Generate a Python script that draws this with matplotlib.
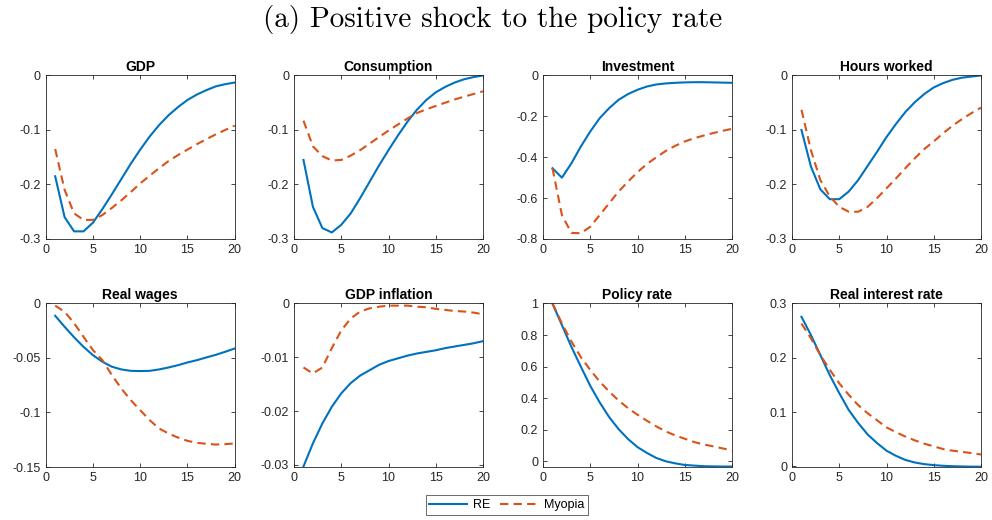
import numpy as np
import matplotlib
matplotlib.use('Agg')
import matplotlib.pyplot as plt

BLUE = '#0072BD'; ORANGE = '#D95319'; AXC = '#262626'

plt.rcParams.update({
    'font.family': ['Liberation Sans', 'DejaVu Sans'],
    'axes.unicode_minus': False,
    'xtick.direction': 'in', 'ytick.direction': 'in',
    'xtick.top': True, 'ytick.right': True,
    'xtick.major.size': 3, 'ytick.major.size': 3,
    'xtick.major.width': 0.6, 'ytick.major.width': 0.6,
    'xtick.color': AXC, 'ytick.color': AXC,
    'axes.edgecolor': AXC, 'axes.linewidth': 0.6,
    'xtick.labelsize': 9, 'ytick.labelsize': 9,
})

periods = np.arange(1, 21)

titles = ['GDP', 'Consumption', 'Investment', 'Hours worked',
          'Real wages', 'GDP inflation', 'Policy rate', 'Real interest rate']

gdp_re = [-0.185, -0.26, -0.286, -0.286, -0.27, -0.245, -0.218, -0.19, -0.162, -0.136,
          -0.112, -0.091, -0.073, -0.058, -0.045, -0.035, -0.027, -0.020, -0.016, -0.013]
gdp_my = [-0.135, -0.21, -0.253, -0.265, -0.265, -0.256, -0.243, -0.229, -0.214, -0.198,
          -0.184, -0.17, -0.157, -0.146, -0.136, -0.126, -0.117, -0.108, -0.1, -0.092]

cons_re = [-0.155, -0.241, -0.28, -0.288, -0.274, -0.253, -0.225, -0.195, -0.165, -0.137,
           -0.11, -0.085, -0.063, -0.045, -0.031, -0.021, -0.013, -0.007, -0.003, 0.0]
cons_my = [-0.083, -0.13, -0.148, -0.156, -0.155, -0.147, -0.137, -0.125, -0.113, -0.101,
           -0.09, -0.079, -0.069, -0.062, -0.056, -0.05, -0.044, -0.039, -0.034, -0.029]

inv_re = [-0.454, -0.5, -0.43, -0.348, -0.274, -0.209, -0.16, -0.119, -0.091, -0.07,
          -0.054, -0.044, -0.039, -0.036, -0.034, -0.033, -0.033, -0.034, -0.035, -0.036]
inv_my = [-0.454, -0.683, -0.77, -0.772, -0.74, -0.683, -0.625, -0.568, -0.519, -0.473,
          -0.433, -0.4, -0.369, -0.344, -0.323, -0.307, -0.294, -0.282, -0.271, -0.261]

hours_re = [-0.1, -0.167, -0.209, -0.227, -0.227, -0.213, -0.192, -0.166, -0.14, -0.113,
            -0.089, -0.067, -0.049, -0.034, -0.022, -0.014, -0.008, -0.004, -0.002, 0.0]
hours_my = [-0.063, -0.137, -0.192, -0.222, -0.241, -0.25, -0.25, -0.241, -0.225, -0.207,
            -0.189, -0.17, -0.152, -0.135, -0.121, -0.106, -0.092, -0.08, -0.069, -0.059]

wage_re = [-0.0113, -0.0214, -0.031, -0.0398, -0.0474, -0.0535, -0.058, -0.0605, -0.0618, -0.062,
           -0.0618, -0.0605, -0.0587, -0.0566, -0.0541, -0.052, -0.0495, -0.0471, -0.0443, -0.0413]
wage_my = [-0.002, -0.0076, -0.018, -0.0306, -0.0428, -0.052, -0.0657, -0.078, -0.0887, -0.0979,
           -0.107, -0.1147, -0.1193, -0.123, -0.126, -0.1278, -0.1287, -0.1294, -0.129, -0.1284]

infl_re = [-0.0303, -0.026, -0.0223, -0.0192, -0.0167, -0.0148, -0.0134, -0.0124, -0.0114, -0.0107,
           -0.0102, -0.0097, -0.0093, -0.009, -0.0087, -0.0083, -0.008, -0.0077, -0.0074, -0.007]
infl_my = [-0.0119, -0.013, -0.0119, -0.0083, -0.005, -0.0028, -0.0015, -0.0009, -0.0006, -0.0004,
           -0.0004, -0.0004, -0.0006, -0.0007, -0.001, -0.0012, -0.0014, -0.0015, -0.0017, -0.002]

rate_re = [1.0, 0.863, 0.726, 0.6, 0.478, 0.373, 0.28, 0.204, 0.141, 0.09,
           0.053, 0.021, 0.0, -0.013, -0.023, -0.027, -0.031, -0.032, -0.033, -0.033]
rate_my = [1.0, 0.874, 0.76, 0.66, 0.579, 0.505, 0.442, 0.385, 0.337, 0.295,
           0.257, 0.221, 0.189, 0.164, 0.143, 0.122, 0.107, 0.095, 0.082, 0.069]

rir_re = [0.2755, 0.242, 0.205, 0.168, 0.135, 0.104, 0.080, 0.059, 0.043, 0.029,
          0.0196, 0.012, 0.0073, 0.0043, 0.0025, 0.0012, 0.0005, 0.0, -0.0003, -0.0005]
rir_my = [0.263, 0.236, 0.205, 0.178, 0.153, 0.132, 0.113, 0.098, 0.085, 0.072,
          0.063, 0.055, 0.048, 0.042, 0.037, 0.032, 0.029, 0.027, 0.0245, 0.022]

series = [(gdp_re, gdp_my), (cons_re, cons_my), (inv_re, inv_my), (hours_re, hours_my),
          (wage_re, wage_my), (infl_re, infl_my), (rate_re, rate_my), (rir_re, rir_my)]

ylims = [(-0.3, 0), (-0.3, 0), (-0.8, 0), (-0.3, 0),
         (-0.15, 0), (-0.0304, 0), (-0.036, 1), (-0.001, 0.3)]
yticks = [[-0.3, -0.2, -0.1, 0], [-0.3, -0.2, -0.1, 0], [-0.8, -0.6, -0.4, -0.2, 0],
          [-0.3, -0.2, -0.1, 0], [-0.15, -0.1, -0.05, 0], [-0.03, -0.02, -0.01, 0],
          [0, 0.2, 0.4, 0.6, 0.8, 1], [0, 0.1, 0.2, 0.3]]

fig = plt.figure(figsize=(9.92, 5.2), dpi=100)
fig.patch.set_facecolor('white')

lefts = [0.0461, 0.2964, 0.5474, 0.7984]
bottoms = [0.5404, 0.1019]
w, h = 0.1905, 0.3145

for i, (title, (re, my)) in enumerate(zip(titles, series)):
    ax = fig.add_axes([lefts[i % 4], bottoms[i // 4], w, h])
    l1, = ax.plot(periods, re, color=BLUE, lw=1.5, label='RE')
    l2, = ax.plot(periods, my, color=ORANGE, lw=1.5, dashes=(4, 2.5), label='Myopia')
    ax.set_xlim(0, 20)
    ax.set_xticks([0, 5, 10, 15, 20])
    ax.set_ylim(*ylims[i])
    ax.set_yticks(yticks[i])
    ax.set_yticklabels([f'{v:g}' for v in yticks[i]])
    ax.set_title(title, fontsize=10, fontweight='bold', pad=3)

fig.text(0.497, 0.962, '(a) Positive shock to the policy rate', family='cmr10',
         fontsize=21, ha='center', va='center')

fig.legend([l1, l2], ['RE', 'Myopia'], loc='center', bbox_to_anchor=(0.511, 0.029),
           ncol=2, fontsize=9, frameon=True, fancybox=False, edgecolor=AXC,
           handlelength=3.0, borderpad=0.3, columnspacing=0.8, handletextpad=0.5)
fig.legends[0].get_frame().set_linewidth(0.6)

fig.savefig('out.png', dpi=100)
